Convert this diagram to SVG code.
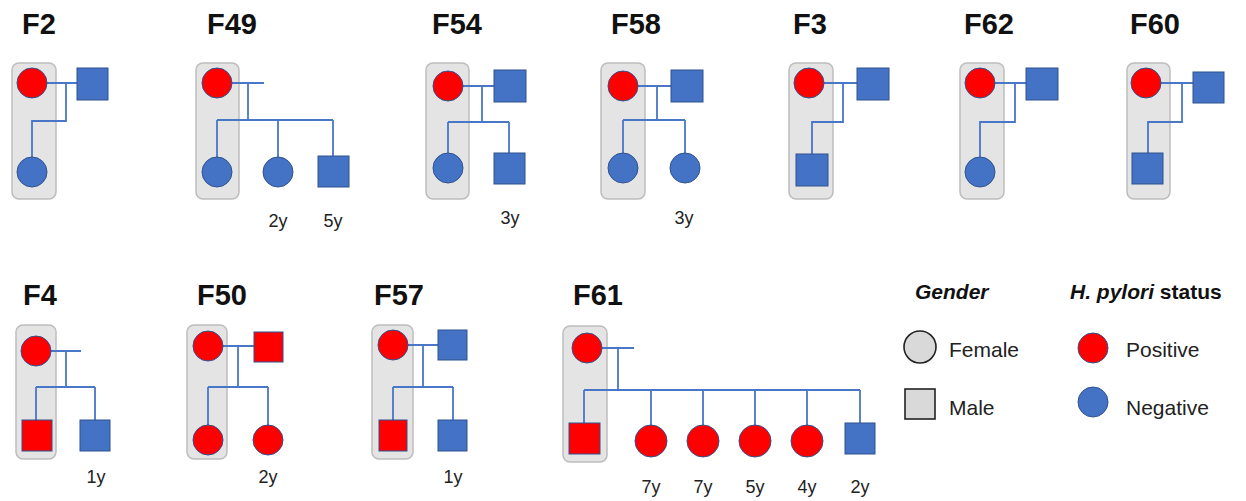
<svg xmlns="http://www.w3.org/2000/svg" width="1246" height="501" viewBox="0 0 1246 501">
<style>
.bg{fill:#fff}
.box{fill:#e4e4e4;stroke:#bdbdbd;stroke-width:1.5}
.pos{fill:#ff0000;stroke:#2f528f;stroke-width:1}
.neg{fill:#4472c4;stroke:#2f528f;stroke-width:1}
.ln{fill:none;stroke:#4a76c8;stroke-width:1.8}
.title{font-family:"Liberation Sans",Arial,sans-serif;font-weight:bold;font-size:29px;fill:#111}
.age{font-family:"Liberation Sans",Arial,sans-serif;font-size:18px;fill:#222;text-anchor:middle}
.leg{font-family:"Liberation Sans",Arial,sans-serif;font-size:21px;fill:#222}
.legh{font-family:"Liberation Sans",Arial,sans-serif;font-size:21px;font-weight:bold;fill:#111}
.gen{fill:#d9d9d9;stroke:#222;stroke-width:1.6}
</style>
<rect class="bg" width="1246" height="501"/>
<g id="boxes">
<rect class="box" x="12" y="63" width="44" height="136" rx="7"/>
<rect class="box" x="196" y="63" width="43" height="136" rx="7"/>
<rect class="box" x="426" y="63" width="43" height="136" rx="7"/>
<rect class="box" x="601" y="63" width="44" height="136" rx="7"/>
<rect class="box" x="789" y="63" width="44" height="136" rx="7"/>
<rect class="box" x="960" y="63" width="44" height="136" rx="7"/>
<rect class="box" x="1127" y="63" width="43" height="136" rx="7"/>
<rect class="box" x="16" y="325" width="40" height="134" rx="7"/>
<rect class="box" x="187" y="325" width="40" height="134" rx="7"/>
<rect class="box" x="372" y="325" width="41" height="134" rx="7"/>
<rect class="box" x="563" y="326" width="44" height="136" rx="7"/>
</g>
<g id="connectors">
<path class="ln" d="M47,83 H77 M66,83 V121 H32 V157"/>
<path class="ln" d="M232,83 H264 M248,83 V120 M217,120 H333 M217,120 V157 M278,120 V157 M333,120 V156"/>
<path class="ln" d="M463,86 H494 M482,86 V122 M448,122 H509 M448,122 V153 M509,122 V153"/>
<path class="ln" d="M638,86 H671 M657,86 V120 M623,120 H685 M623,120 V153 M685,120 V153"/>
<path class="ln" d="M824,83 H857 M843,83 V122 H812 V154"/>
<path class="ln" d="M995,83 H1026 M1015,83 V122 H980 V157"/>
<path class="ln" d="M1161,83 H1193 M1182,83 V122 H1148 V153"/>
<path class="ln" d="M51,351 H81 M66,351 V387 M36,387 H95 M36,387 V420 M95,387 V420"/>
<path class="ln" d="M223,346 H254 M238,346 V387 M208,387 H268 M208,387 V425 M268,387 V425"/>
<path class="ln" d="M408,345 H438 M423,345 V387 M393,387 H453 M393,387 V420 M453,387 V420"/>
<path class="ln" d="M602,348 H634 M618,348 V390 M584,390 H860 M584,390 V423 M651,390 V425 M703,390 V425 M755,390 V425 M807,390 V425 M860,390 V423"/>
</g>
<g id="F2">
<text class="title" x="22" y="34">F2</text>
<circle class="pos" cx="32" cy="83" r="15"/>
<rect class="neg" x="77" y="68" width="31" height="32"/>
<circle class="neg" cx="32" cy="172" r="15"/>
</g>
<g id="F49">
<text class="title" x="207" y="34">F49</text>
<circle class="pos" cx="217" cy="83" r="15"/>
<circle class="neg" cx="217" cy="172" r="15"/>
<circle class="neg" cx="278" cy="172" r="15"/>
<rect class="neg" x="318" y="156" width="31" height="31"/>
<text class="age" x="278" y="227">2y</text>
<text class="age" x="333" y="227">5y</text>
</g>
<g id="F54">
<text class="title" x="432" y="34">F54</text>
<circle class="pos" cx="448" cy="86" r="15"/>
<rect class="neg" x="494" y="70" width="32" height="32"/>
<circle class="neg" cx="448" cy="168" r="15"/>
<rect class="neg" x="494" y="153" width="31" height="31"/>
<text class="age" x="510" y="224">3y</text>
</g>
<g id="F58">
<text class="title" x="611" y="34">F58</text>
<circle class="pos" cx="623" cy="86" r="15"/>
<rect class="neg" x="671" y="70" width="32" height="32"/>
<circle class="neg" cx="623" cy="168" r="15"/>
<circle class="neg" cx="685" cy="168" r="15"/>
<text class="age" x="684" y="224">3y</text>
</g>
<g id="F3">
<text class="title" x="793" y="34">F3</text>
<circle class="pos" cx="809" cy="83" r="15"/>
<rect class="neg" x="857" y="68" width="32" height="32"/>
<rect class="neg" x="796" y="154" width="32" height="32"/>
</g>
<g id="F62">
<text class="title" x="964" y="34">F62</text>
<circle class="pos" cx="980" cy="83" r="15"/>
<rect class="neg" x="1026" y="68" width="32" height="32"/>
<circle class="neg" cx="980" cy="172" r="15"/>
</g>
<g id="F60">
<text class="title" x="1130" y="34">F60</text>
<circle class="pos" cx="1146" cy="83" r="15"/>
<rect class="neg" x="1193" y="72" width="31" height="31"/>
<rect class="neg" x="1132" y="153" width="31" height="31"/>
</g>
<g id="F4">
<text class="title" x="23" y="305">F4</text>
<circle class="pos" cx="36" cy="351" r="15"/>
<rect class="pos" x="22" y="420" width="30" height="31"/>
<rect class="neg" x="80" y="420" width="30" height="31"/>
<text class="age" x="96" y="483">1y</text>
</g>
<g id="F50">
<text class="title" x="197" y="305">F50</text>
<circle class="pos" cx="208" cy="346" r="15"/>
<rect class="pos" x="254" y="332" width="29" height="30"/>
<circle class="pos" cx="208" cy="440" r="15"/>
<circle class="pos" cx="268" cy="440" r="15"/>
<text class="age" x="268" y="483">2y</text>
</g>
<g id="F57">
<text class="title" x="374" y="305">F57</text>
<circle class="pos" cx="393" cy="345" r="15"/>
<rect class="neg" x="438" y="330" width="29" height="30"/>
<rect class="pos" x="379" y="420" width="28" height="31"/>
<rect class="neg" x="438" y="420" width="29" height="31"/>
<text class="age" x="453" y="483">1y</text>
</g>
<g id="F61">
<text class="title" x="573" y="305">F61</text>
<circle class="pos" cx="587" cy="348" r="15"/>
<rect class="pos" x="569" y="423" width="31" height="31"/>
<circle class="pos" cx="651" cy="441" r="16"/>
<circle class="pos" cx="703" cy="441" r="16"/>
<circle class="pos" cx="755" cy="441" r="16"/>
<circle class="pos" cx="807" cy="441" r="16"/>
<rect class="neg" x="845" y="423" width="30" height="31"/>
<text class="age" x="651" y="493">7y</text>
<text class="age" x="703" y="493">7y</text>
<text class="age" x="755" y="493">5y</text>
<text class="age" x="807" y="493">4y</text>
<text class="age" x="860" y="493">2y</text>
</g>
<g id="legend-gender">
<text class="legh" x="915" y="299" font-style="italic">Gender</text>
<circle class="gen" cx="920" cy="347" r="16"/>
<text class="leg" x="949" y="357">Female</text>
<rect class="gen" x="905" y="389" width="30" height="30"/>
<text class="leg" x="949" y="415">Male</text>
</g>
<g id="legend-status">
<text class="legh" x="1070" y="299"><tspan font-style="italic">H. pylori</tspan> status</text>
<circle class="pos" cx="1093" cy="348" r="15"/>
<text class="leg" x="1126" y="357">Positive</text>
<circle class="neg" cx="1093" cy="402" r="15"/>
<text class="leg" x="1126" y="415">Negative</text>
</g>
</svg>
